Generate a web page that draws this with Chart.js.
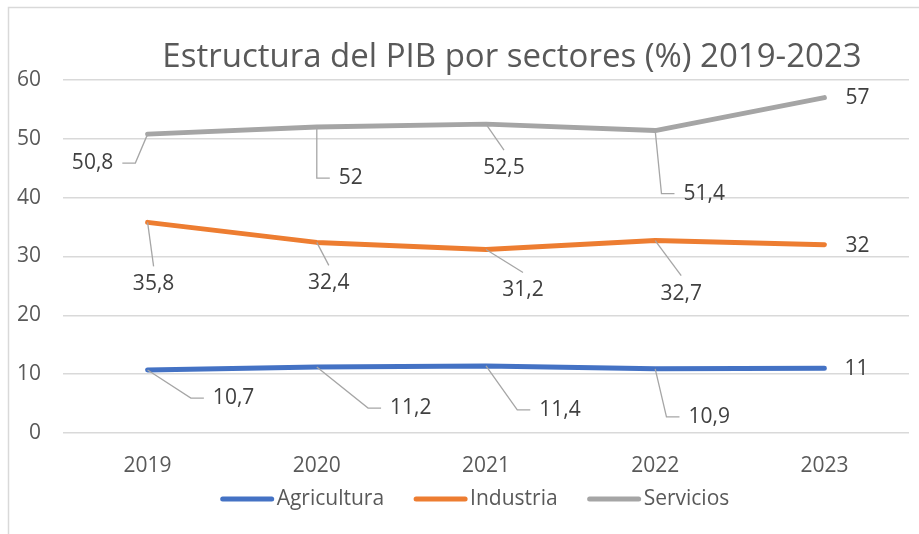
<!DOCTYPE html>
<html>
<head>
<meta charset="utf-8">
<script src="https://cdn.jsdelivr.net/npm/chart.js@4.4.1/dist/chart.umd.min.js"></script>
<style>
  html, body { margin: 0; padding: 0; background: #fff; }
</style>
</head>
<body>
<canvas id="lineChart" width="919" height="534"></canvas>
<script>
const years = ['2019', '2020', '2021', '2022', '2023'];
const agricultura = [10.7, 11.2, 11.4, 10.9, 11];
const industria = [35.8, 32.4, 31.2, 32.7, 32];
const servicios = [50.8, 52, 52.5, 51.4, 57];
const yMin = 0, yMax = 60, yStep = 10;

// where each data label sits relative to its point: [dx, dy, leader]
const labelPlaces = [
  [[86, 28, 'side'], [94, 41, 'side'], [74, 44, 'side'], [54, 48, 'side'], [32, 1, 'none']],
  [[6, 62, 'below'], [12, 41, 'below'], [37, 41, 'below'], [26, 53, 'below'], [33, 1, 'none']],
  [[-55, 29, 'side'], [34, 51, 'side'], [18, 44, 'below'], [49, 63, 'side'], [33, 0, 'none']]
];

const FONT = '"Open Sans", "Noto Sans", sans-serif';

// white background, the grey frame, the title and the legend
const framePlugin = {
  id: 'frame',
  beforeDraw(chart) {
    const ctx = chart.ctx;
    ctx.save();
    ctx.fillStyle = '#fff';
    ctx.fillRect(0, 0, chart.width, chart.height);
    ctx.strokeStyle = '#d9d9d9';
    ctx.lineWidth = 1.5;
    ctx.beginPath();
    ctx.moveTo(8.5, chart.height);
    ctx.lineTo(8.5, 7.5);
    ctx.lineTo(chart.width, 7.5);
    ctx.stroke();

    ctx.fillStyle = '#595959';
    ctx.font = '33px ' + FONT;
    ctx.textAlign = 'center';
    ctx.textBaseline = 'middle';
    ctx.fillText('Estructura del PIB por sectores (%) 2019-2023', 512, 58);

    // legend
    ctx.font = '21px ' + FONT;
    ctx.textAlign = 'left';
    const items = chart.data.datasets.map(ds => ({
      label: ds.label, color: ds.borderColor, w: 56 + ctx.measureText(ds.label).width
    }));
    const gap = 30;
    const total = items.reduce((s, it) => s + it.w, 0) + gap * (items.length - 1);
    let x = 475 - total / 2;
    const y = 499;
    ctx.lineCap = 'round';
    ctx.lineWidth = 5;
    items.forEach(it => {
      ctx.strokeStyle = it.color;
      ctx.beginPath();
      ctx.moveTo(x + 2, y);
      ctx.lineTo(x + 51, y);
      ctx.stroke();
      ctx.fillStyle = '#595959';
      ctx.fillText(it.label, x + 56, y);
      x += it.w + gap;
    });
    ctx.restore();
  }
};

const labelPlugin = {
  id: 'leaderLabels',
  afterDatasetsDraw(chart) {
    const ctx = chart.ctx;
    ctx.save();
    ctx.font = '21px ' + FONT;
    ctx.textAlign = 'center';
    ctx.textBaseline = 'middle';
    chart.data.datasets.forEach((ds, i) => {
      const meta = chart.getDatasetMeta(i);
      meta.data.forEach((pt, j) => {
        const [dx, dy, mode] = labelPlaces[i][j];
        const txt = String(ds.data[j]).replace('.', ',');
        const w = ctx.measureText(txt).width;
        const lx = pt.x + dx, ly = pt.y + dy;
        ctx.strokeStyle = '#a6a6a6';
        ctx.lineWidth = 1.3;
        if (mode === 'side') {
          const s = dx > 0 ? 1 : -1;
          const edge = lx - s * (w / 2 + 9);
          const knee = edge - s * 13;
          ctx.beginPath();
          ctx.moveTo(pt.x, pt.y);
          ctx.lineTo(knee, ly);
          ctx.lineTo(edge, ly);
          ctx.stroke();
        } else if (mode === 'below') {
          ctx.beginPath();
          ctx.moveTo(pt.x, pt.y);
          ctx.lineTo(lx, ly - 18);
          ctx.stroke();
        }
        ctx.fillStyle = '#404040';
        ctx.fillText(txt, lx, ly);
      });
    });
    ctx.restore();
  }
};

function series(label, data, color) {
  return {
    label: label,
    data: data,
    borderColor: color,
    backgroundColor: color,
    borderWidth: 5,
    borderCapStyle: 'round',
    borderJoinStyle: 'round',
    pointRadius: 0,
    pointHoverRadius: 0,
    tension: 0
  };
}

new Chart(document.getElementById('lineChart'), {
  type: 'line',
  data: {
    labels: years,
    datasets: [
      series('Agricultura', agricultura, '#4472c4'),
      series('Industria', industria, '#ed7d31'),
      series('Servicios', servicios, '#a5a5a5')
    ]
  },
  options: {
    responsive: false,
    animation: false,
    devicePixelRatio: 1,
    layout: { padding: { left: 8, right: 10, top: 80, bottom: 53 } },
    plugins: {
      title: { display: false },
      tooltip: { enabled: false },
      legend: { display: false }
    },
    scales: {
      x: {
        offset: true,
        grid: { display: false },
        border: { display: false },
        ticks: { color: '#595959', font: { family: FONT, size: 21 }, padding: 12 },
        afterFit(scale) { scale.height = 48; }
      },
      y: {
        min: yMin,
        max: yMax,
        grid: { color: '#d9d9d9', lineWidth: 1.5, drawTicks: false },
        border: { display: false },
        ticks: { stepSize: yStep, color: '#595959', font: { family: FONT, size: 21 }, padding: 22 },
        afterFit(scale) { scale.width = 55; }
      }
    }
  },
  plugins: [framePlugin, labelPlugin]
});
</script>
</body>
</html>
